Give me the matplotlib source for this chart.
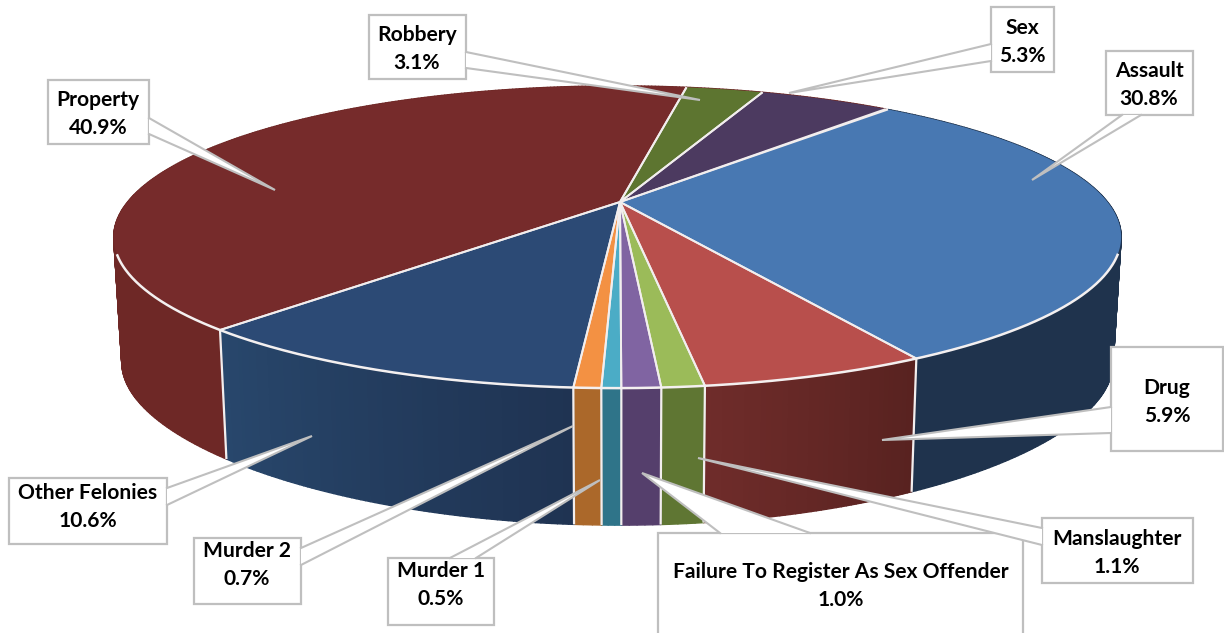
import numpy as np
import matplotlib
matplotlib.use("Agg")
import matplotlib.pyplot as plt
from matplotlib.collections import PolyCollection
from matplotlib.colors import to_rgb
from matplotlib.patches import Polygon, Rectangle

plt.rcParams['font.family'] = ['Lato', 'DejaVu Sans']

# data, clockwise from the Assault slice
categories = ["Assault", "Drug", "Manslaughter", "Failure To Register As Sex Offender",
              "Murder 1", "Murder 2", "Other Felonies", "Property", "Robbery", "Sex"]
shares = [30.8, 5.9, 1.1, 1.0, 0.5, 0.7, 10.6, 40.9, 3.1, 5.3]

top_colors = ["#4878b2", "#b84f4c", "#9bbb59", "#8064a2", "#4bacc6",
              "#f39143", "#2c4a75", "#762b2b", "#5d7530", "#4c3a60"]
wall_left = ["#1f334d", "#6f2c2a", "#5f7633", "#553f6c", "#2f7489",
             "#ab682a", "#28476c", "#6e2826", "#6e2826", "#6e2826"]
wall_right = ["#1f334d", "#582220", "#5f7633", "#553f6c", "#2f7489",
              "#ab682a", "#1f3352", "#6e2826", "#6e2826", "#6e2826"]

# pie geometry in pixels
CX, CY = 620, 202
RX, RY = 490, 143
PERSP = 0.2317
LEAN = 0.005
START = 49.8
WALL_DY = 126
WALL_RY = 138
WALL_PERSP = 0.3
WALL_SCALE = 0.984
GREY = "#bfbfbf"

# label layout: box x0, y0, x1, y1 / leader base points / leader tip / text centre
boxes = [(1106, 51, 1193, 115), (1111, 347, 1223, 451), (1042, 518, 1193, 583), (658, 533, 1023, 660),
         (388, 558, 494, 625), (194, 538, 301, 604), (9, 478, 167, 544), (48, 80, 149, 144),
         (369, 15, 466, 79), (991, 7, 1054, 72)]
bases = [((1122, 115), (1141, 115)), ((1111, 407), (1111, 433)), ((1042, 528), (1042, 545)),
         ((720, 533), (810, 533)), ((450, 558), (476, 558)), ((301, 548), (301, 565)),
         ((167, 488), (167, 505)), ((149, 118), (149, 134)), ((466, 52), (466, 68)),
         ((991, 44), (991, 61))]
tips = [(1032, 180), (882, 440), (698, 458), (642, 473), (600, 480),
        (573, 426), (312, 436), (275, 190), (700, 100), (789, 93)]
text_pos = [(1149, 85), (1167, 402), (1117, 553), (841, 586), (441, 585),
            (247, 565), (88, 507), (98, 114), (417, 49), (1022, 42)]


def rim(theta):
    t = np.radians(theta)
    w = 1 + PERSP * np.sin(t) + LEAN * np.cos(t)
    return CX + RX * np.cos(t) / w, CY - RY * np.sin(t) / w


def floor_rim(theta):
    t = np.radians(theta)
    w = 1 + PERSP * np.sin(t) + LEAN * np.cos(t)
    x = CX + WALL_SCALE * RX * np.cos(t) / w
    y = CY + WALL_DY - WALL_RY * np.sin(t) / (1 + WALL_PERSP * np.sin(t))
    return x, y


fig = plt.figure(figsize=(12.24, 6.33), dpi=100)
ax = fig.add_axes([0, 0, 1, 1])
ax.set_xlim(0, 1224)
ax.set_ylim(633, 0)
ax.axis("off")

angles = START - np.cumsum([0] + shares) * 3.6

# side walls first, the top covers what is hidden
for i in range(len(shares)):
    th = np.linspace(angles[i], angles[i + 1], max(int(abs(angles[i] - angles[i + 1])) * 2, 4))
    xt, yt = rim(th)
    xb, yb = floor_rim(th)
    left, right = np.array(to_rgb(wall_left[i])), np.array(to_rgb(wall_right[i]))
    strips, cols = [], []
    for j in range(len(th) - 1):
        strips.append([(xt[j], yt[j]), (xt[j + 1], yt[j + 1]), (xb[j + 1], yb[j + 1]), (xb[j], yb[j])])
        # th runs right to left on the front of the pie
        f = j / max(len(th) - 2, 1)
        cols.append(tuple(right * (1 - f) + left * f))
    ax.add_collection(PolyCollection(strips, facecolors=cols, edgecolors=cols, linewidths=1.0, zorder=2))

for a in angles[:-1]:
    if np.sin(np.radians(a)) < 0:
        xt, yt = rim(a)
        xb, yb = floor_rim(a)
        ax.plot([xt, xb], [yt, yb], color="#f2eeee", lw=1.6, zorder=3, solid_capstyle="butt")

# top of the pie
for i in range(len(shares)):
    th = np.linspace(angles[i], angles[i + 1], max(int(abs(angles[i] - angles[i + 1])) * 2, 4))
    xt, yt = rim(th)
    pts = np.column_stack([np.r_[CX, xt], np.r_[CY, yt]])
    ax.add_patch(Polygon(pts, closed=True, facecolor=top_colors[i], edgecolor="none", zorder=4))
    ax.plot([CX, xt[0]], [CY, yt[0]], color="#f2eeee", lw=1.4, zorder=5, solid_capstyle="butt")
    ax.plot([CX, xt[-1]], [CY, yt[-1]], color="#f2eeee", lw=1.4, zorder=5, solid_capstyle="butt")

# white rim along the front
th = np.linspace(200, 340, 400)
xt, yt = rim(th)
ax.plot(xt, yt, color="#f4f0f0", lw=1.8, zorder=5)

# callouts
for i in range(len(categories)):
    x0, y0, x1, y1 = boxes[i]
    a, b = bases[i]
    tip = tips[i]
    ax.add_patch(Rectangle((x0, y0), x1 - x0, y1 - y0, facecolor="white", edgecolor=GREY, lw=1.6, zorder=6))
    ax.add_patch(Polygon([a, b, tip], closed=True, facecolor="white", edgecolor="none", zorder=7))
    ax.plot([a[0], tip[0], b[0]], [a[1], tip[1], b[1]], color=GREY, lw=1.5, zorder=8, solid_joinstyle="miter")
    ax.text(text_pos[i][0], text_pos[i][1], f"{categories[i]}\n{shares[i]:.1f}%", ha="center", va="center",
            fontsize=15.1, fontweight="bold", color="black", linespacing=1.55, zorder=9)

fig.savefig("out.png", dpi=100)
